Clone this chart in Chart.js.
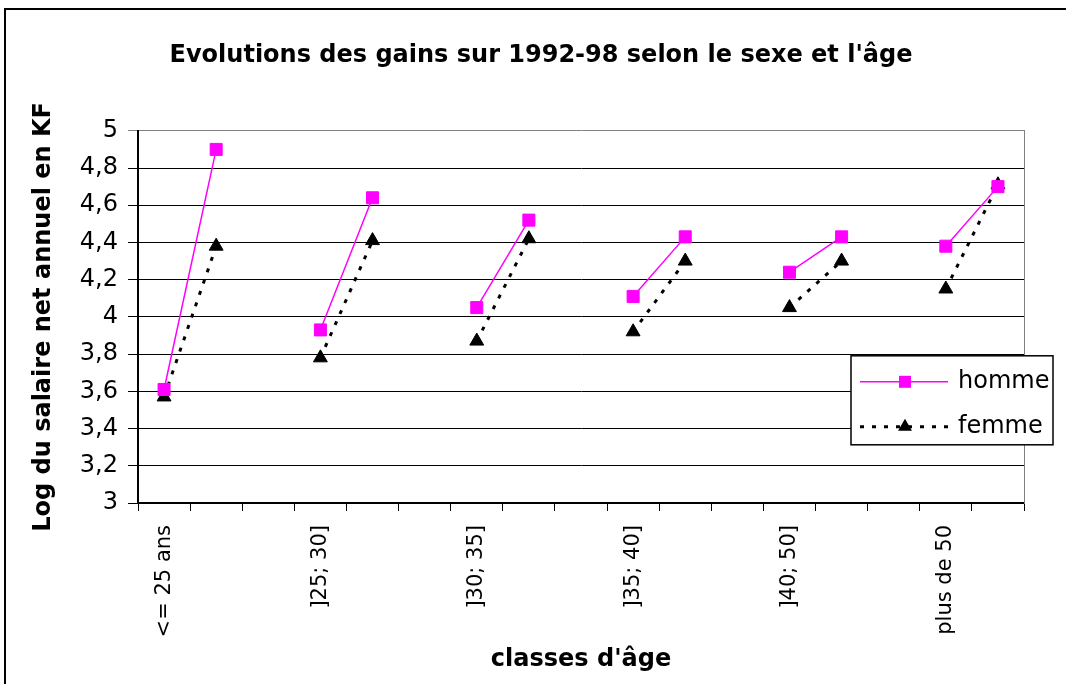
<!DOCTYPE html>
<html>
<head>
<meta charset="utf-8">
<script src="https://cdn.jsdelivr.net/npm/chart.js@4.4.1/dist/chart.umd.min.js"></script>
<style>
  html, body { margin: 0; padding: 0; background: #fff; }
  #wrap { position: relative; width: 1066px; height: 684px; overflow: hidden; }
</style>
</head>
<body>
<div id="wrap"><canvas id="gainsChart" width="1066" height="684"></canvas></div>
<script>
// classes d'âge : deux points par classe (1992 puis 1998)
const classes = ['<= 25 ans', ']25; 30]', ']30; 35]', ']35; 40]', ']40; 50]', 'plus de 50'];
const homme92 = [3.61, 3.93, 4.05, 4.11, 4.24, 4.38];
const homme98 = [4.90, 4.64, 4.52, 4.43, 4.43, 4.70];
const femme92 = [3.57, 3.78, 3.87, 3.92, 4.05, 4.15];
const femme98 = [4.38, 4.41, 4.42, 4.30, 4.30, 4.71];

const FONT = "'DejaVu Sans', Arial, sans-serif";

// une case vide entre deux classes pour couper les lignes
const labels = [], hommeData = [], femmeData = [];
classes.forEach((c, i) => {
  labels.push(c, '');
  hommeData.push(homme92[i], homme98[i]);
  femmeData.push(femme92[i], femme98[i]);
  if (i < classes.length - 1) {
    labels.push('');
    hommeData.push(null);
    femmeData.push(null);
  }
});

// cadre extérieur
const frame = {
  id: 'frame',
  beforeDraw(chart) {
    const ctx = chart.ctx;
    ctx.save();
    ctx.fillStyle = '#fff';
    ctx.fillRect(0, 0, chart.width, chart.height);
    ctx.strokeStyle = '#000';
    ctx.lineWidth = 2;
    ctx.beginPath();
    ctx.moveTo(5, chart.height);
    ctx.lineTo(5, 9);
    ctx.lineTo(chart.width, 9);
    ctx.stroke();
    ctx.restore();
  }
};

// légende encadrée dans la zone du graphique
const legendBox = {
  id: 'legendBox',
  afterDatasetsDraw(chart) {
    const ctx = chart.ctx;
    const area = chart.chartArea;
    const x = area.right - 173, y = area.top + 225, w = 202, h = 89;
    ctx.save();
    ctx.fillStyle = '#fff';
    ctx.fillRect(x, y, w, h);
    ctx.strokeStyle = '#000';
    ctx.lineWidth = 1.5;
    ctx.strokeRect(x, y, w, h);
    chart.data.datasets.forEach((ds, i) => {
      const cy = y + 26 + i * 45;
      ctx.strokeStyle = ds.borderColor;
      ctx.lineWidth = ds.borderWidth;
      ctx.setLineDash(ds.borderDash || []);
      ctx.beginPath();
      ctx.moveTo(x + 9, cy);
      ctx.lineTo(x + 97, cy);
      ctx.stroke();
      ctx.setLineDash([]);
      const mx = x + 54, r = ds.pointRadius;
      ctx.fillStyle = ds.pointBackgroundColor;
      ctx.beginPath();
      if (ds.pointStyle === 'triangle') {
        ctx.moveTo(mx, cy - r);
        ctx.lineTo(mx + r * 0.866, cy + r / 2);
        ctx.lineTo(mx - r * 0.866, cy + r / 2);
        ctx.closePath();
      } else {
        const s = r * Math.SQRT1_2;
        ctx.rect(mx - s, cy - s, 2 * s, 2 * s);
      }
      ctx.fill();
      ctx.fillStyle = '#000';
      ctx.font = '24px ' + FONT;
      ctx.textBaseline = 'middle';
      ctx.fillText(ds.label, x + 107, cy);
    });
    ctx.restore();
  }
};

const ctx = document.getElementById('gainsChart').getContext('2d');
new Chart(ctx, {
  type: 'line',
  data: {
    labels: labels,
    datasets: [{
      label: 'homme',
      data: hommeData,
      borderColor: '#FF00FF',
      borderWidth: 1.5,
      pointStyle: 'rect',
      pointRadius: 8.5,
      pointBackgroundColor: '#FF00FF',
      pointBorderColor: '#FF00FF',
      pointBorderWidth: 1,
      spanGaps: false
    }, {
      label: 'femme',
      data: femmeData,
      borderColor: '#000',
      borderWidth: 3,
      borderDash: [4, 8],
      pointStyle: 'triangle',
      pointRadius: 8,
      pointBackgroundColor: '#000',
      pointBorderColor: '#000',
      pointBorderWidth: 1,
      spanGaps: false
    }]
  },
  options: {
    responsive: false,
    animation: false,
    devicePixelRatio: 1,
    layout: { padding: { left: 16, right: 0, top: 0, bottom: 0 } },
    plugins: {
      legend: { display: false },
      tooltip: { enabled: false },
      title: {
        display: true,
        text: "Evolutions des gains sur 1992-98 selon le sexe et l'âge",
        color: '#000',
        font: { family: FONT, size: 24, weight: 'bold' },
        padding: { top: 41, bottom: 61 }
      }
    },
    scales: {
      x: {
        offset: true,
        grid: { offset: true, drawOnChartArea: false, color: '#000', tickLength: 8 },
        border: { color: '#000', width: 2 },
        ticks: {
          autoSkip: false, maxRotation: 90, minRotation: 90, padding: 14,
          color: '#000', font: { family: FONT, size: 21 }
        },
        title: {
          display: true, text: "classes d'âge", color: '#000',
          font: { family: FONT, size: 24, weight: 'bold' },
          padding: { top: 0, bottom: 10 }
        },
        afterFit(s) { s.height = 181; }
      },
      y: {
        min: 3, max: 5,
        ticks: {
          stepSize: 0.2, padding: 10, color: '#000',
          font: { family: FONT, size: 24 },
          callback: v => String(Math.round(v * 10) / 10).replace('.', ',')
        },
        grid: {
          color: c => (c.tick && c.tick.value === 5) ? '#808080' : '#000',
          tickLength: 10
        },
        border: { color: '#000', width: 2 },
        title: {
          display: true, text: 'Log du salaire net annuel en KF', color: '#000',
          font: { family: FONT, size: 24, weight: 'bold' },
          padding: { top: 13, bottom: 0 }
        },
        afterFit(s) { s.width = 122; }
      },
      yR: {
        position: 'right',
        grid: { display: false },
        ticks: { display: false },
        border: { color: '#808080', width: 1 },
        afterFit(s) { s.width = 42; }
      }
    }
  },
  plugins: [frame, legendBox]
});
</script>
</body>
</html>
